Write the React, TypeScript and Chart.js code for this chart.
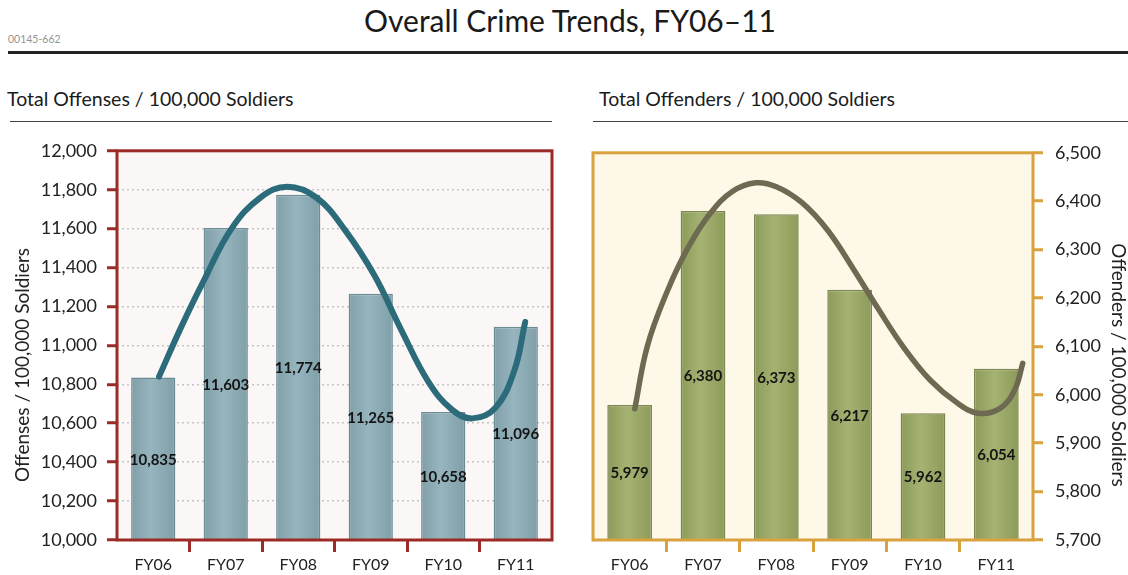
import React, { useEffect, useRef } from 'react';
import { Chart, registerables } from 'chart.js';

Chart.register(...registerables);

const categories = ['FY06', 'FY07', 'FY08', 'FY09', 'FY10', 'FY11'];
const offenses = [10835, 11603, 11774, 11265, 10658, 11096];
const offenders = [5979, 6380, 6373, 6217, 5962, 6054];

// trend curves (x = category position, y = value)
const offensesTrendX = [0.08, 0.38, 0.68, 1.08, 1.48, 1.85, 2.25, 2.65, 3.05, 3.42, 3.8, 4.12, 4.4, 4.72, 4.98, 5.13];
const offensesTrendY = [10840, 11090, 11320, 11600, 11760, 11815, 11760, 11590, 11360, 11080, 10810, 10670, 10625, 10680, 10870, 11120];
const offendersTrendX = [0.07, 0.24, 0.51, 0.8, 1.1, 1.4, 1.72, 2.0, 2.35, 2.7, 3.05, 3.4, 3.75, 4.1, 4.45, 4.75, 5.05, 5.25, 5.36];
const offendersTrendY = [5971, 6100, 6213, 6305, 6375, 6420, 6438, 6430, 6397, 6340, 6260, 6175, 6095, 6030, 5985, 5962, 5972, 6010, 6065];

const offensesAxis = { min: 10000, max: 12000, step: 200 };
const offendersAxis = { min: 5700, max: 6500, step: 100 };

const FONT = 'Lato';
const BAR_PCT = 0.61;
const fmt = (v: number) => Number(v).toLocaleString('en-US');

type Colors = {
  frame: string;
  bg: string;
  barEdge: string;
  barMid: string;
  barBorder: string;
  line: string;
  grid: string;
};

function decorPlugin(colors: Colors, title: string, side: 'left' | 'right') {
  return {
    id: 'decor',
    beforeDraw(chart: any) {
      const { ctx, chartArea: a } = chart;
      ctx.save();
      ctx.fillStyle = colors.bg;
      ctx.fillRect(a.left, a.top, a.right - a.left, a.bottom - a.top);
      ctx.restore();
    },
    afterDatasetsDraw(chart: any) {
      const { ctx, chartArea: a } = chart;
      // value labels in the middle of each visible bar
      chart.getSortedVisibleDatasetMetas().forEach((meta: any) => {
        if (meta.type !== 'bar') return;
        const ds = chart.data.datasets[meta.index];
        ctx.save();
        ctx.font = `bold 15px ${FONT}`;
        ctx.fillStyle = '#141414';
        ctx.textAlign = 'center';
        ctx.textBaseline = 'middle';
        meta.data.forEach((el: any, i: number) => {
          const p = el.getProps(['x', 'y', 'base'], true);
          const base = Math.min(p.base, a.bottom);
          ctx.fillText(fmt(ds.data[i]), p.x, (p.y + base) / 2 + 1);
        });
        ctx.restore();
      });
      // frame
      ctx.save();
      ctx.strokeStyle = colors.frame;
      ctx.lineWidth = 3;
      ctx.strokeRect(a.left, a.top, a.right - a.left, a.bottom - a.top);
      ctx.restore();
    },
    afterDraw(chart: any) {
      const { ctx } = chart;
      ctx.save();
      ctx.font = `19px ${FONT}`;
      ctx.fillStyle = '#222';
      ctx.textAlign = 'center';
      ctx.textBaseline = 'middle';
      if (side === 'left') {
        ctx.translate(23, 235);
        ctx.rotate(-Math.PI / 2);
      } else {
        ctx.translate(chart.width - 10, 235);
        ctx.rotate(Math.PI / 2);
      }
      ctx.fillText(title, 0, 0);
      ctx.restore();
    },
  };
}

function buildChart(
  canvas: HTMLCanvasElement,
  side: 'left' | 'right',
  values: number[],
  trendX: number[],
  trendY: number[],
  axis: { min: number; max: number; step: number },
  title: string,
  colors: Colors
) {
  const edgeTick = (c: any) => (c.type !== 'tick' || c.index === 0 ? 'rgba(0,0,0,0)' : colors.frame);
  const barFill = (c: any) => {
    const chart = c.chart;
    const xs = chart.scales && chart.scales.x;
    if (!xs || !chart.chartArea || c.dataIndex === undefined) return colors.barMid;
    const cx = xs.getPixelForValue(c.dataIndex);
    const half = ((xs.width / categories.length) * BAR_PCT) / 2;
    if (!isFinite(cx) || !isFinite(half) || half <= 0) return colors.barMid;
    const g = chart.ctx.createLinearGradient(cx - half, 0, cx + half, 0);
    g.addColorStop(0, colors.barEdge);
    g.addColorStop(0.45, colors.barMid);
    g.addColorStop(1, colors.barEdge);
    return g;
  };
  return new Chart(canvas, {
    type: 'bar',
    data: {
      labels: categories,
      datasets: [
        {
          type: 'bar',
          data: values,
          xAxisID: 'x',
          yAxisID: 'y',
          backgroundColor: barFill,
          borderColor: colors.barBorder,
          borderWidth: 1.5,
          barPercentage: BAR_PCT,
          categoryPercentage: 1,
          grouped: false,
          order: 1,
        } as any,
        {
          type: 'line',
          data: trendX.map((x, i) => ({ x, y: trendY[i] })),
          xAxisID: 'xLine',
          yAxisID: 'y',
          borderColor: colors.line,
          borderWidth: side === 'left' ? 6 : 5.5,
          pointRadius: 0,
          tension: 0.4,
          borderCapStyle: 'round',
          fill: false,
          order: 0,
        } as any,
      ],
    },
    options: {
      responsive: false,
      animation: false,
      layout: {
        padding: side === 'left' ? { top: 20, right: 8, left: 0, bottom: 0 } : { top: 20, right: 0, left: 28, bottom: 0 },
      },
      plugins: {
        legend: { display: false },
        tooltip: { enabled: false },
      },
      scales: {
        x: {
          type: 'category',
          offset: true,
          grid: {
            drawOnChartArea: false,
            offset: true,
            tickLength: 12,
            tickWidth: 3,
            tickColor: edgeTick,
            color: edgeTick,
          },
          border: { display: false },
          ticks: { color: '#222', font: { family: FONT, size: 16 }, padding: 3 },
          afterFit: (s: any) => {
            s.height = 35;
          },
        },
        xLine: {
          type: 'linear',
          display: false,
          offset: false,
          grid: { offset: false },
          bounds: 'data',
          min: -0.5,
          max: 5.5,
        },
        y: {
          position: side,
          min: axis.min,
          max: axis.max,
          ticks: {
            stepSize: axis.step,
            callback: (v: any) => fmt(v),
            color: '#222',
            font: { family: FONT, size: 18 },
            padding: side === 'left' ? 10 : 12,
          },
          grid: {
            color: colors.grid,
            lineWidth: 1.5,
            tickLength: 10,
            tickWidth: 3,
            tickColor: colors.frame,
            tickBorderDash: [],
          },
          border: { display: false, dash: [2, 3] },
          title: { display: false },
          afterFit: (s: any) => {
            s.width = side === 'left' ? 117 : 95;
          },
        },
      },
    } as any,
    plugins: [decorPlugin(colors, title, side)],
  });
}

export default function App() {
  const leftRef = useRef<HTMLCanvasElement>(null);
  const rightRef = useRef<HTMLCanvasElement>(null);

  useEffect(() => {
    const l = buildChart(
      leftRef.current!,
      'left',
      offenses,
      offensesTrendX,
      offensesTrendY,
      offensesAxis,
      'Offenses / 100,000 Soldiers',
      {
        frame: '#9c2a27',
        bg: '#fcf7f7',
        barEdge: '#7f9fa9',
        barMid: '#97b5be',
        barBorder: '#6b8b95',
        line: '#2b6b7a',
        grid: 'rgba(190,190,190,0.9)',
      }
    );
    const r = buildChart(
      rightRef.current!,
      'right',
      offenders,
      offendersTrendX,
      offendersTrendY,
      offendersAxis,
      'Offenders / 100,000 Soldiers',
      {
        frame: '#d9a23e',
        bg: '#fdf8e8',
        barEdge: '#8c9a5a',
        barMid: '#a4b272',
        barBorder: '#7b8650',
        line: '#6e6a52',
        grid: 'rgba(0,0,0,0)',
      }
    );
    return () => {
      l.destroy();
      r.destroy();
    };
  }, []);

  const text: React.CSSProperties = { position: 'absolute', fontFamily: FONT, lineHeight: 1, whiteSpace: 'nowrap', color: '#1a1a1a' };

  return (
    <div style={{ position: 'absolute', left: 0, top: 0, width: 1128, height: 575, background: '#fff', overflow: 'hidden' }}>
      <div style={{ ...text, left: 0, width: 1140, top: 5, fontSize: 30, textAlign: 'center' }}>Overall Crime Trends, FY06–11</div>
      <div style={{ ...text, left: 8, top: 33.5, fontSize: 10.5, color: '#949494' }}>00145-662</div>
      <div style={{ position: 'absolute', left: 8, top: 51, width: 1120, height: 2.5, background: '#222' }} />

      <div style={{ ...text, left: 7, top: 89.4, fontSize: 19.5 }}>Total Offenses / 100,000 Soldiers</div>
      <div style={{ position: 'absolute', left: 10, top: 121, width: 542, height: 1.3, background: '#444' }} />
      <div style={{ ...text, left: 599, top: 89.4, fontSize: 19.5 }}>Total Offenders / 100,000 Soldiers</div>
      <div style={{ position: 'absolute', left: 593, top: 121, width: 535, height: 1.3, background: '#444' }} />

      <canvas ref={leftRef} width={560} height={445} style={{ position: 'absolute', left: 0, top: 130, width: 560, height: 445 }} />
      <canvas ref={rightRef} width={563} height={445} style={{ position: 'absolute', left: 565, top: 130, width: 563, height: 445 }} />
    </div>
  );
}
